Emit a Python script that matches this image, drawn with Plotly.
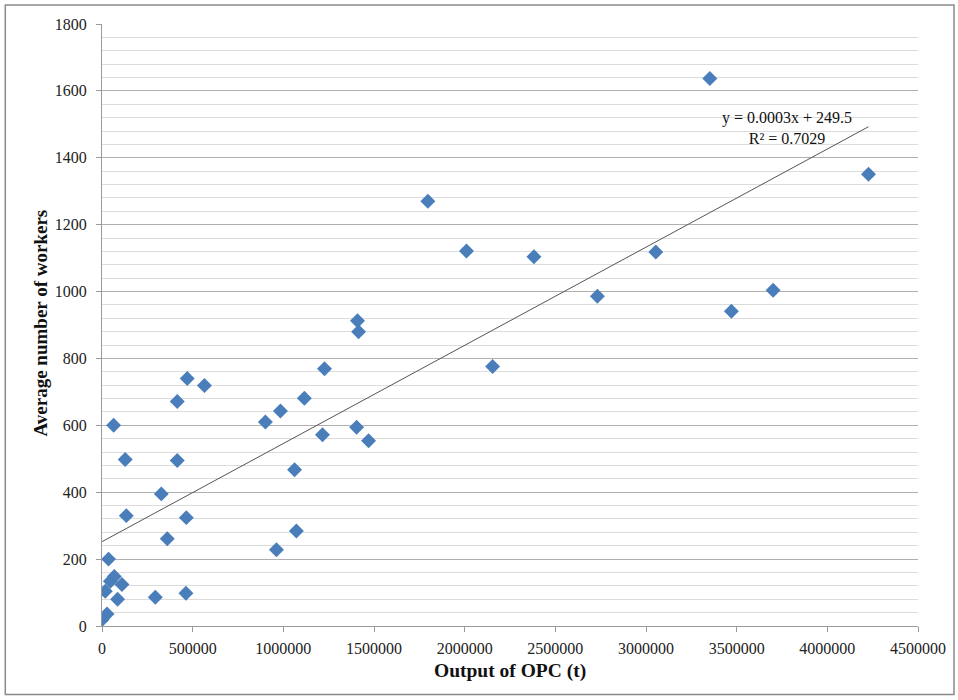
import numpy as np
import plotly.graph_objects as go

# Data
output_opc = [0, 27600, 18000, 46000, 68000, 110000, 86000, 36000, 294000, 463000,
              134000, 360000, 465000, 327000, 128000, 415000, 64000, 415000, 470000, 565000,
              962000, 1072000, 1062000, 901000, 984000, 1116000, 1216000, 1227000, 1404000, 1470000,
              1409000, 1415000, 1797000, 2010000, 2382000, 2154000, 2732000, 3054000, 3471000, 3701000,
              3352000, 4227000]
avg_workers = [19, 36, 104, 134, 148, 124, 80, 200, 86, 98,
               330, 261, 324, 395, 498, 495, 600, 671, 740, 719,
               228, 284, 467, 610, 643, 681, 572, 769, 594, 554,
               913, 880, 1270, 1121, 1104, 776, 986, 1118, 941, 1004,
               1637, 1351]
trend_label = "y = 0.0003x + 249.5<br>R² = 0.7029"
x_ticks = [0, 500000, 1000000, 1500000, 2000000, 2500000, 3000000, 3500000, 4000000, 4500000]
y_ticks = [0, 200, 400, 600, 800, 1000, 1200, 1400, 1600, 1800]

x = np.array(output_opc, dtype=float)
y = np.array(avg_workers, dtype=float)
slope, intercept = np.polyfit(x, y, 1)
tx = np.array([x.min(), x.max()])
ty = slope * tx + intercept

FONT = "Liberation Serif"

fig = go.Figure()
fig.add_trace(go.Scatter(x=output_opc, y=avg_workers, mode="markers",
                         marker=dict(symbol="diamond", size=11.5, color="#4A7EBB"),
                         showlegend=False))
fig.add_trace(go.Scatter(x=tx, y=ty, mode="lines",
                         line=dict(color="#555555", width=1), showlegend=False))

fig.add_annotation(x=3780000, y=1490, xref="x", yref="y", text=trend_label,
                   showarrow=False, font=dict(family=FONT, size=16, color="#111111"),
                   align="center", xanchor="center", yanchor="middle")

fig.add_annotation(x=0.5, y=-0.0755, xref="paper", yref="paper",
                   text="<b>Output of OPC (t)</b>", showarrow=False,
                   xanchor="center", yanchor="middle",
                   font=dict(family=FONT, size=19.5, color="#111111"))
fig.add_annotation(x=-0.0756, y=0.503, xref="paper", yref="paper",
                   text="<b>Average number of workers</b>", showarrow=False, textangle=-90,
                   xanchor="center", yanchor="middle",
                   font=dict(family=FONT, size=19, color="#111111"))

# outer chart border
fig.add_shape(type="rect", xref="paper", yref="paper",
              x0=-0.1185, x1=1.0441, y0=-0.1137, y1=1.0315,
              line=dict(color="#8a8a8a", width=1.5), fillcolor="rgba(0,0,0,0)", layer="below")

fig.update_xaxes(range=[0, 4500000], tickvals=x_ticks, ticktext=[str(v) for v in x_ticks],
                 showgrid=False, zeroline=False, showline=True, linecolor="#9a9a9a", linewidth=1,
                 ticks="outside", ticklen=5, tickcolor="#9a9a9a", ticklabelstandoff=3,
                 tickfont=dict(family=FONT, size=16, color="#222222"))
fig.update_yaxes(range=[0, 1800], tickvals=y_ticks, ticktext=[str(v) for v in y_ticks],
                 showgrid=True, gridcolor="#b0b0b0", gridwidth=1,
                 minor=dict(dtick=40, showgrid=True, gridcolor="#dcdcdc", gridwidth=1),
                 zeroline=False, showline=True, linecolor="#9a9a9a", linewidth=1,
                 ticks="outside", ticklen=5, tickcolor="#9a9a9a", ticklabelstandoff=6,
                 tickfont=dict(family=FONT, size=16, color="#222222"))

fig.update_layout(width=958, height=700,
                  margin=dict(l=102, r=40, t=24, b=73.5, autoexpand=False),
                  plot_bgcolor="white", paper_bgcolor="white",
                  font=dict(family=FONT))

fig.write_html("out.html")
